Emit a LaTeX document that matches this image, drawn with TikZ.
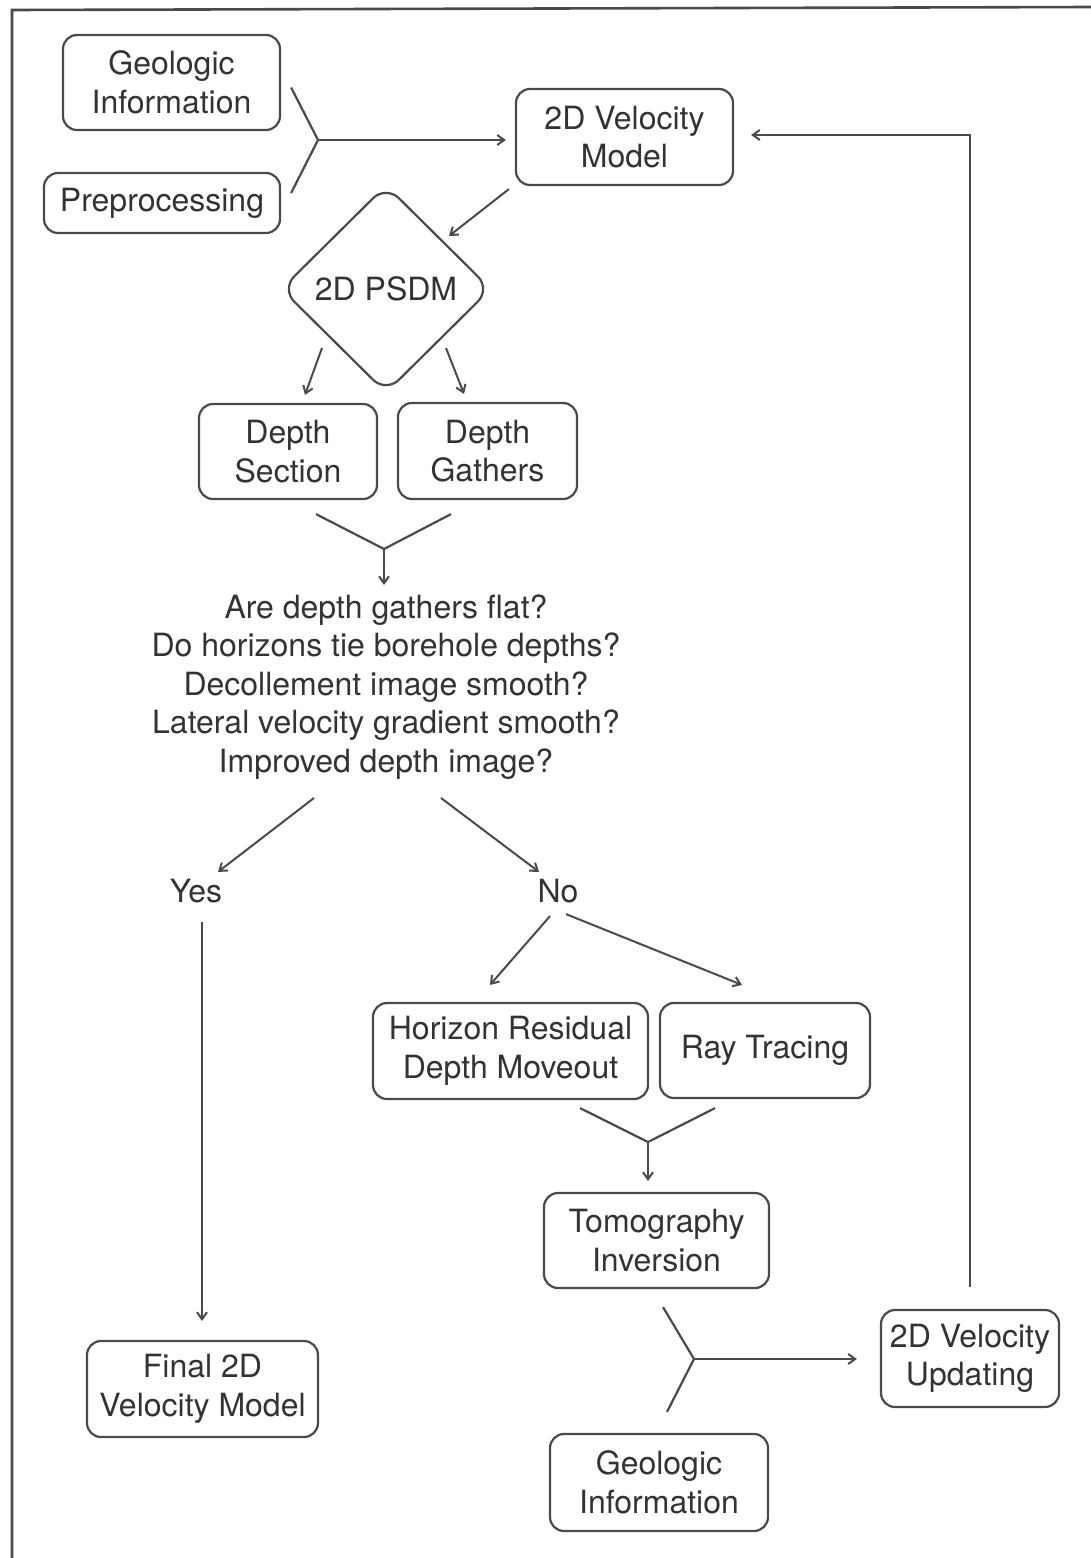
\documentclass[tikz,border=0pt]{standalone}
\usepackage{fontspec}
\setmainfont{TeX Gyre Heros}
\usetikzlibrary{shapes.geometric,arrows.meta,calc}
\definecolor{ln}{HTML}{4A4A4A}
\definecolor{tx}{HTML}{333333}
\begin{document}
\begin{tikzpicture}[x=1pt,y=-1pt,
  every node/.style={text=tx,font=\fontsize{32}{38.5}\selectfont},
  box/.style={draw=ln,line width=2.2pt,rounded corners=14pt,align=center,inner sep=0pt},
  arr/.style={draw=ln,line width=2pt,-{Straight Barb[length=7pt,width=10pt,line width=2pt]}},
  ln2/.style={draw=ln,line width=2.2pt},
  lab/.style={inner sep=0pt}]
\useasboundingbox (0,0) rectangle (1091,1558);
% frame
\draw[draw=ln,line width=2.6pt] (12,1558) -- (12,10) -- (1091,7);
% nodes
\node[box,minimum width=217pt,minimum height=95pt] (gi1) at (171.5,82.5) {Geologic\\Information};
\node[box,minimum width=236pt,minimum height=60pt] (pre) at (162,203) {Preprocessing};
\node[box,minimum width=217pt,minimum height=96pt] (vm) at (624.5,137) {2D Velocity\\Model};
\node[draw=ln,line width=2.2pt,diamond,rounded corners=18pt,minimum width=210pt,minimum height=208pt,inner sep=0pt] (psdm) at (386,289) {2D PSDM};
\node[box,minimum width=178pt,minimum height=95pt] (ds) at (288,451.5) {Depth\\Section};
\node[box,minimum width=179pt,minimum height=96pt] (dg) at (487.5,451) {Depth\\Gathers};
\node[align=center,lab] (q) at (386,687) {Are depth gathers flat?\\Do horizons tie borehole depths?\\Decollement image smooth?\\Lateral velocity gradient smooth?\\Improved depth image?};
\node[lab] (yes) at (196,891) {Yes};
\node[lab] (no) at (558,891) {No};
\node[box,minimum width=231pt,minimum height=96pt] (fin) at (202.5,1389) {Final 2D\\Velocity Model};
\node[box,minimum width=275pt,minimum height=96pt] (hr) at (510.5,1051) {Horizon Residual\\Depth Moveout};
\node[box,minimum width=210pt,minimum height=95pt] (rt) at (765,1050.5) {Ray Tracing};
\node[box,minimum width=225pt,minimum height=95pt] (tomo) at (656.5,1240.5) {Tomography\\Inversion};
\node[box,minimum width=178pt,minimum height=97pt] (upd) at (970,1358.5) {2D Velocity\\Updating};
\node[box,minimum width=218pt,minimum height=97pt] (gi2) at (659,1482.5) {Geologic\\Information};
% join points
\coordinate (j1) at (318,140);
\coordinate (j2) at (384,549);
\coordinate (j3) at (648,1142);
\coordinate (j4) at (694,1359);
\coordinate (fb) at (970,135);
% connectors
\draw[ln2] ($(gi1.east)+(10,5)$) -- (j1) -- ($(pre.east)+(10,-10)$);
\draw[arr] (j1) -- ($(j1 -| vm.west)+(-9,0)$);
\draw[arr] ($(vm.south west)+(-6,3)$) -- (449,236);
\draw[arr] (322,348) -- ($(ds.north)+(17,-8)$);
\draw[arr] (446,348) -- ($(dg.north)+(-23.5,-8)$);
\draw[ln2] ($(ds.south)+(28,14)$) -- (j2) -- ($(dg.south)+(-36.5,14)$);
\draw[arr] (j2) -- (384,585);
\draw[arr] (314,798) -- ($(yes.north)+(22,-7)$);
\draw[arr] (441,798) -- ($(no.north)+(-19,-7)$);
\draw[arr] ($(yes.south)+(6,19)$) -- ($(fin.north)+(-0.5,-19)$);
\draw[arr] ($(no.south)+(-8,13)$) -- ($(hr.north)+(-20.5,-17)$);
\draw[arr] ($(no.south)+(8,11)$) -- ($(rt.north)+(-23,-17)$);
\draw[ln2] ($(hr.south)+(69.5,8)$) -- (j3) -- ($(rt.south)+(-50,9)$);
\draw[arr] (j3) -- ($(j3 |- tomo.north)+(0,-11)$);
\draw[ln2] ($(tomo.south)+(6.5,18)$) -- (j4) -- ($(gi2.north)+(8,-21)$);
\draw[arr] (j4) -- ($(j4 -| upd.west)+(-23,0)$);
\draw[arr] ($(upd.north)+(0,-22)$) -- (fb) -- ($(fb -| vm.east)+(17,0)$);
\end{tikzpicture}
\end{document}
